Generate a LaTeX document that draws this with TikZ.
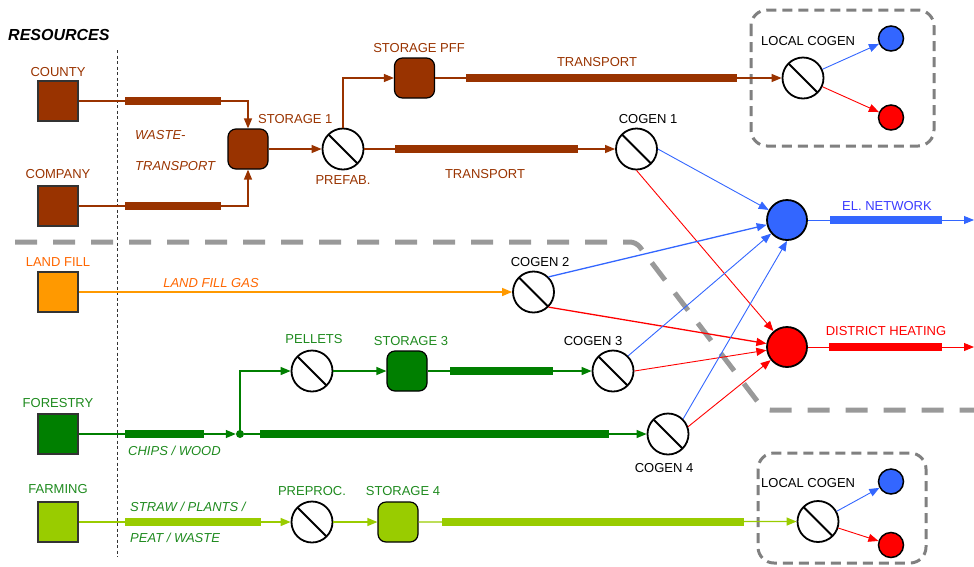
\documentclass[tikz,border=0pt]{standalone}
\usepackage{fontspec}
\setmainfont{Liberation Sans}
\usetikzlibrary{arrows.meta,calc}
\definecolor{cbrown}{HTML}{993300}
\definecolor{corange}{HTML}{FF9900}
\definecolor{corangetxt}{HTML}{FF6600}
\definecolor{cgreen}{HTML}{007F00}
\definecolor{cgreentxt}{HTML}{1E8A1E}
\definecolor{clime}{HTML}{99CC00}
\definecolor{cblue}{HTML}{3366FF}
\definecolor{cbluetxt}{HTML}{3B3BFF}
\definecolor{cred}{HTML}{FF0000}
\definecolor{cgrayd}{HTML}{999999}
\definecolor{cgrayb}{HTML}{808080}
\tikzset{
  lbl/.style={font=\fontsize{13}{15}\selectfont, inner sep=0pt},
  ilbl/.style={font=\fontsize{13}{15}\selectfont\itshape, inner sep=0pt},
  srcbox/.style={rectangle, minimum size=40pt, inner sep=0pt, draw=black!80, line width=1.2pt},
  storbox/.style={rectangle, rounded corners=8pt, minimum size=40pt, inner sep=0pt, draw=black, line width=1.2pt},
  proc/.style={circle, minimum size=41pt, inner sep=0pt, draw=black, line width=1.8pt, fill=white,
    path picture={\draw[line width=1.8pt] (path picture bounding box.north west) -- (path picture bounding box.south east);}},
  bigdot/.style={circle, minimum size=40pt, inner sep=0pt, draw=black, line width=1.8pt},
  smalldot/.style={circle, minimum size=25pt, inner sep=0pt, draw=black, line width=1.5pt},
  junction/.style={circle, minimum size=8pt, inner sep=0pt, fill=cgreen},
  flow/.style={line width=1.3pt, -{Triangle[length=10pt,width=8pt]}},
  thinflow/.style={line width=0.9pt, -{Triangle[length=10pt,width=8pt]}},
  bar/.style={line width=8pt},
  zone/.style={draw=cgrayd, line width=5pt, dash pattern=on 22pt off 16pt, rounded corners=6pt},
  localbox/.style={draw=cgrayb, line width=3pt, dash pattern=on 10pt off 6pt, rounded corners=16pt},
}
\begin{document}
\begin{tikzpicture}[x=1pt,y=-1pt]
\useasboundingbox (0,0) rectangle (974,566);

% zone separators
\draw[zone] (15,242) -- (636,242) -- (764,410) -- (974,410);
\draw[black!80, line width=0.8pt, dash pattern=on 3pt off 2.5pt] (117,50) -- (117,557);
\draw[localbox] (751,10) rectangle (934,146);
\draw[localbox] (758,453) rectangle (926,563);

\node[lbl, anchor=west, font=\fontsize{16}{18}\selectfont\bfseries\itshape] (res) at (8,35) {RESOURCES};

% sources
\node[srcbox, fill=cbrown] (county) at (58,101) {};
\node[srcbox, fill=cbrown] (company) at (58,206) {};
\node[srcbox, fill=corange] (landfill) at (58,292) {};
\node[srcbox, fill=cgreen] (forestry) at (58,434) {};
\node[srcbox, fill=clime] (farming) at (58,522) {};
\node[lbl, text=cbrown] (lcounty) at (58,72) {COUNTY};
\node[lbl, text=cbrown] (lcompany) at (58,174) {COMPANY};
\node[lbl, text=corangetxt] (llandfill) at (58,262) {LAND FILL};
\node[lbl, text=cgreentxt] (lforestry) at (58,403) {FORESTRY};
\node[lbl, text=cgreentxt] (lfarming) at (58,489) {FARMING};

% storages and processes
\node[storbox, fill=cbrown] (st1) at (248,149) {};
\node[proc] (prefab) at (343,149) {};
\node[storbox, fill=cbrown] (stpff) at (414.5,78) {};
\node[proc] (lc1) at (803,78) {};
\node[smalldot, fill=cblue] (lc1b) at (891,38.5) {};
\node[smalldot, fill=cred] (lc1r) at (891,117.5) {};
\node[proc] (cg1) at (636.5,149) {};
\node[bigdot, fill=cblue] (el) at (787,220) {};
\node[bigdot, fill=cred] (dh) at (787,347) {};
\node[proc] (cg2) at (533.5,292) {};
\node[proc] (pel) at (312,371) {};
\node[storbox, fill=cgreen] (st3) at (407,371) {};
\node[proc] (cg3) at (613,371) {};
\node[proc] (cg4) at (668,434) {};
\node[junction] (jn) at (240,434) {};
\node[proc] (pre) at (312,522) {};
\node[storbox, fill=clime] (st4) at (398,522) {};
\node[proc] (lc2) at (818,521.5) {};
\node[smalldot, fill=cblue] (lc2b) at (891,481.5) {};
\node[smalldot, fill=cred] (lc2r) at (891,545) {};
\coordinate (elout) at (974,220);
\coordinate (dhout) at (974,347);

% labels
\node[ilbl, anchor=west, text=cbrown] (lwaste) at (135,135) {WASTE-};
\node[ilbl, anchor=west, text=cbrown] (lwaste2) at (135,166) {TRANSPORT};
\node[lbl, anchor=west, text=cbrown] (lst1) at (258,119) {STORAGE 1};
\node[lbl, text=cbrown] (lprefab) at (343,180) {PREFAB.};
\node[lbl, text=cbrown] (lstpff) at (419,48) {STORAGE PFF};
\node[lbl, text=cbrown] (ltr1) at (597,62) {TRANSPORT};
\node[lbl, text=cbrown] (ltr2) at (485,174) {TRANSPORT};
\node[lbl] (lcg1) at (648,119) {COGEN 1};
\node[lbl, anchor=west] (llc1) at (761,41) {LOCAL COGEN};
\node[lbl, anchor=west] (llc2) at (761,483) {LOCAL COGEN};
\node[lbl, text=cbluetxt] (lel) at (887,206) {EL. NETWORK};
\node[lbl, text=cred] (ldh) at (886,331) {DISTRICT HEATING};
\node[lbl] (lcg2) at (540,262) {COGEN 2};
\node[ilbl, text=corangetxt] (lgas) at (211,283) {LAND FILL GAS};
\node[lbl, text=cgreentxt] (lpel) at (314,339) {PELLETS};
\node[lbl, text=cgreentxt] (lst3) at (411,341) {STORAGE 3};
\node[lbl] (lcg3) at (593,341) {COGEN 3};
\node[lbl] (lcg4) at (664,468) {COGEN 4};
\node[ilbl, anchor=west, text=cgreentxt] (lchips) at (128,451) {CHIPS / WOOD};
\node[lbl, text=cgreentxt] (lpre) at (312,491) {PREPROC.};
\node[lbl, text=cgreentxt] (lst4) at (403,491) {STORAGE 4};
\node[ilbl, anchor=west, text=cgreentxt] (lstraw) at (130,507) {STRAW / PLANTS /};
\node[ilbl, anchor=west, text=cgreentxt] (lpeat) at (130,538) {PEAT / WASTE};

% brown flows
\draw[flow, cbrown] (county.east) -| (st1.north);
\draw[flow, cbrown] (company.east) -| (st1.south);
\draw[bar, cbrown] (125,101) -- (221,101);
\draw[bar, cbrown] (125,206) -- (221,206);
\draw[flow, cbrown] (st1) -- (prefab);
\draw[flow, cbrown] (prefab.north) |- (stpff.west);
\draw[flow, cbrown] (stpff) -- (lc1);
\draw[bar, cbrown] (466,78) -- (737,78);
\draw[flow, cbrown] (prefab) -- (cg1);
\draw[bar, cbrown] (395,149) -- (578,149);

% local cogen top
\draw[thinflow, cblue] (lc1) -- (lc1b);
\draw[thinflow, cred] (lc1) -- (lc1r);

% cogen outputs
\draw[thinflow, cblue] (cg1.east) -- (el);
\draw[thinflow, cred] (cg1.south) -- (dh);
\draw[flow, cblue] (cg2.north east) -- (el);
\draw[flow, cred] (cg2.south east) -- (dh);
\draw[thinflow, cblue] (cg3.north east) -- (el);
\draw[thinflow, cred] (cg3.east) -- (dh);
\draw[thinflow, cblue] (cg4.north east) -- (el.south);
\draw[thinflow, cred] (cg4.20) -- (dh);

% networks
\draw[thinflow, cblue] (el) -- (elout);
\draw[bar, cblue] (830,220) -- (942,220);
\draw[thinflow, cred] (dh) -- (dhout);
\draw[bar, cred] (829,347) -- (942,347);

% landfill
\draw[flow, corange] (landfill.east) -- (cg2.west);

% forestry
\draw[flow, cgreen] (forestry.east) -- (jn.west);
\draw[bar, cgreen] (125,434) -- (204,434);
\draw[flow, cgreen] (jn) -- (cg4.west);
\draw[bar, cgreen] (260,434) -- (609,434);
\draw[flow, cgreen] (jn.center) |- (pel.west);
\draw[flow, cgreen] (pel) -- (st3);
\draw[flow, cgreen] (st3) -- (cg3);
\draw[bar, cgreen] (450,371) -- (553,371);

% farming
\draw[flow, clime] (farming.east) -- (pre.west);
\draw[bar, clime] (125,522) -- (261,522);
\draw[flow, clime] (pre) -- (st4);
\draw[flow, clime] (st4) -- (lc2);
\draw[bar, clime] (442,522) -- (744,522);
\draw[thinflow, cblue] (lc2) -- (lc2b);
\draw[thinflow, cred] (lc2) -- (lc2r);
\end{tikzpicture}
\end{document}
